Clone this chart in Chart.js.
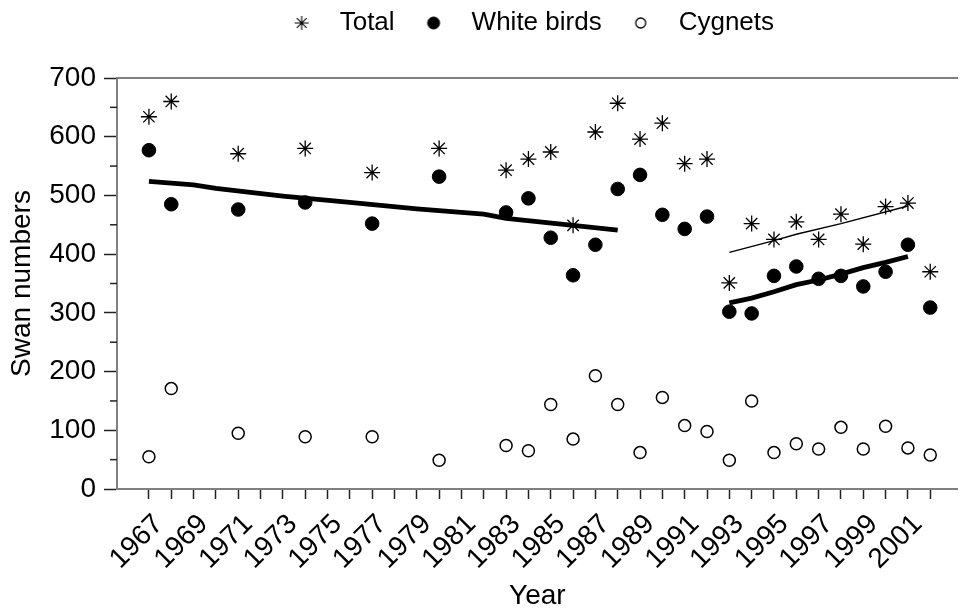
<!DOCTYPE html>
<html>
<head>
<meta charset="utf-8">
<script src="https://cdn.jsdelivr.net/npm/chart.js@4.4.1/dist/chart.umd.min.js"></script>
<style>
  html, body { margin: 0; padding: 0; background: #fff; }
  canvas { display: block; }
</style>
</head>
<body>
<canvas id="chart" width="967" height="613"></canvas>
<script>
// survey years and counts
const years = [1967, 1968, 1971, 1974, 1977, 1980, 1983, 1984, 1985, 1986, 1987, 1988, 1989,
               1990, 1991, 1992, 1993, 1994, 1995, 1996, 1997, 1998, 1999, 2000, 2001, 2002];
const total = [634, 660, 571, 580, 539, 580, 543, 562, 574, 449, 608, 657, 596,
               623, 554, 562, 351, 452, 425, 455, 425, 468, 417, 481, 487, 370];
const whiteBirds = [577, 485, 476, 488, 452, 532, 471, 495, 428, 364, 416, 511, 535,
                    467, 443, 464, 302, 299, 363, 379, 358, 363, 345, 370, 416, 309];
const cygnets = [55, 171, 95, 89, 89, 49, 74, 65, 144, 85, 193, 144, 62,
                 156, 108, 98, 49, 150, 62, 77, 68, 105, 68, 107, 70, 58];

// fitted trend lines
const whiteTrendEarlyYears = [1967, 1969, 1970, 1973, 1976, 1979, 1982, 1983, 1986, 1988];
const whiteTrendEarly = [524, 518, 512, 499, 488, 477, 468, 461, 449, 441];
const whiteTrendLateYears = [1993, 1994, 1995, 1996, 1997, 1998, 1999, 2000, 2001];
const whiteTrendLate = [317, 325, 336, 348, 356, 366, 377, 386, 396];
const totalTrendLateYears = [1993, 1995, 1996, 1998, 2001];
const totalTrendLate = [403, 423, 434, 452, 482];

// axis ticks
const tickYears = [1967, 1968, 1969, 1970, 1971, 1972, 1973, 1974, 1975, 1976, 1977, 1978,
                   1979, 1980, 1981, 1982, 1983, 1984, 1985, 1986, 1987, 1988, 1989, 1990,
                   1991, 1992, 1993, 1994, 1995, 1996, 1997, 1998, 1999, 2000, 2001, 2002];
const labelYears = [1967, 1969, 1971, 1973, 1975, 1977, 1979, 1981, 1983, 1985, 1987,
                    1989, 1991, 1993, 1995, 1997, 1999, 2001];
const yTicks = [0, 100, 200, 300, 400, 500, 600, 700];

const pts = (xs, ys) => xs.map((x, i) => ({ x: x, y: ys[i] }));

const FONT = 'Liberation Sans, Arial, Helvetica, sans-serif';
const FS = 28;
const AXIS = '#808080';
const TICK = '#222';

Chart.defaults.font.family = FONT;
Chart.defaults.font.size = FS;
Chart.defaults.color = '#000';

// little marker images for the legend, drawn by Chart.js itself
function glyph(style, radius, fill, lw) {
  const c = document.createElement('canvas');
  c.width = c.height = Math.ceil(radius * 2 + 4);
  const g = c.getContext('2d');
  g.fillStyle = fill;
  g.strokeStyle = '#000';
  g.lineWidth = lw;
  Chart.helpers.drawPoint(g, { pointStyle: style, radius: radius, borderWidth: lw }, c.width / 2, c.height / 2);
  return c;
}
const legendGlyphs = [glyph('star', 7, '#000', 1.1), glyph('circle', 6, '#000', 1), glyph('circle', 5, '#fff', 1.3)];

// short unlabeled ticks halfway between the y labels
const minorTicks = {
  id: 'minorTicks',
  afterDraw(chart) {
    const y = chart.scales.y, ctx = chart.ctx, x0 = chart.chartArea.left;
    ctx.save();
    ctx.strokeStyle = TICK;
    ctx.lineWidth = 1.5;
    for (let i = 1; i < y.ticks.length; i++) {
      const py = y.getPixelForValue((y.ticks[i].value + y.ticks[i - 1].value) / 2);
      ctx.beginPath();
      ctx.moveTo(x0 - 7, py);
      ctx.lineTo(x0, py);
      ctx.stroke();
    }
    ctx.restore();
  }
};

// the legend sits a bit left of the plot centre in the original
const legendNudge = {
  id: 'legendNudge',
  afterLayout(chart) {
    chart.legend.left -= 12;
    chart.legend.right -= 12;
  }
};

new Chart(document.getElementById('chart'), {
  type: 'scatter',
  data: {
    datasets: [
      { label: 'Total', data: pts(years, total), pointStyle: 'star', pointRadius: 8,
        borderColor: '#000', backgroundColor: '#000', borderWidth: 1.3 },
      { label: 'White birds', data: pts(years, whiteBirds), pointStyle: 'circle', pointRadius: 6.8,
        borderColor: '#000', backgroundColor: '#000', borderWidth: 1 },
      { label: 'Cygnets', data: pts(years, cygnets), pointStyle: 'circle', pointRadius: 6,
        borderColor: '#000', backgroundColor: '#fff', borderWidth: 1.5 },
      { label: 'trend1', data: pts(whiteTrendEarlyYears, whiteTrendEarly), showLine: true,
        pointRadius: 0, borderColor: '#000', borderWidth: 4.8 },
      { label: 'trend2', data: pts(whiteTrendLateYears, whiteTrendLate), showLine: true,
        pointRadius: 0, borderColor: '#000', borderWidth: 4.8 },
      { label: 'trend3', data: pts(totalTrendLateYears, totalTrendLate), showLine: true,
        pointRadius: 0, borderColor: '#000', borderWidth: 1.5 }
    ]
  },
  options: {
    responsive: false,
    animation: false,
    layout: { padding: { top: -4, left: 0, right: 0, bottom: 0 } },
    plugins: {
      tooltip: { enabled: false },
      legend: {
        position: 'top',
        fullSize: false,
        labels: {
          usePointStyle: true,
          pointStyleWidth: 50,
          padding: 14,
          font: { size: 26 },
          filter: item => item.datasetIndex < 3,
          generateLabels(chart) {
            return Chart.defaults.plugins.legend.labels.generateLabels(chart)
              .map(l => Object.assign(l, { pointStyle: legendGlyphs[l.datasetIndex] || l.pointStyle }));
          }
        }
      }
    },
    scales: {
      x: {
        type: 'linear',
        min: 1965.57,
        max: 2003.23,
        afterBuildTicks: s => { s.ticks = tickYears.map(v => ({ value: v })); },
        afterFit: s => { s.height = 124; },
        ticks: {
          autoSkip: false,
          minRotation: 45,
          maxRotation: 45,
          padding: 9,
          labelOffset: 10,
          font: { size: FS },
          callback: v => labelYears.includes(v) ? String(v) : ''
        },
        grid: { drawOnChartArea: false, tickLength: 10, tickColor: TICK, tickWidth: 1.5 },
        border: { color: AXIS, width: 2 },
        title: { display: true, text: 'Year', font: { size: FS }, padding: { top: 0, bottom: 0 } }
      },
      xTop: {
        type: 'linear',
        position: 'top',
        min: 1965.57,
        max: 2003.23,
        afterFit: s => { s.height = 32; },
        ticks: { display: false },
        grid: { display: false },
        border: { color: AXIS, width: 2 }
      },
      y: {
        min: 0,
        max: 700,
        afterBuildTicks: s => { s.ticks = yTicks.map(v => ({ value: v })); },
        afterFit: s => { s.width = 117; },
        ticks: { padding: 8, font: { size: FS }, callback: v => String(v) },
        grid: { drawOnChartArea: false, tickLength: 13, tickColor: TICK, tickWidth: 1.5 },
        border: { color: AXIS, width: 2 },
        title: { display: true, text: 'Swan numbers', font: { size: FS }, padding: { top: 5, bottom: 0 } }
      }
    }
  },
  plugins: [minorTicks, legendNudge]
});
</script>
</body>
</html>
